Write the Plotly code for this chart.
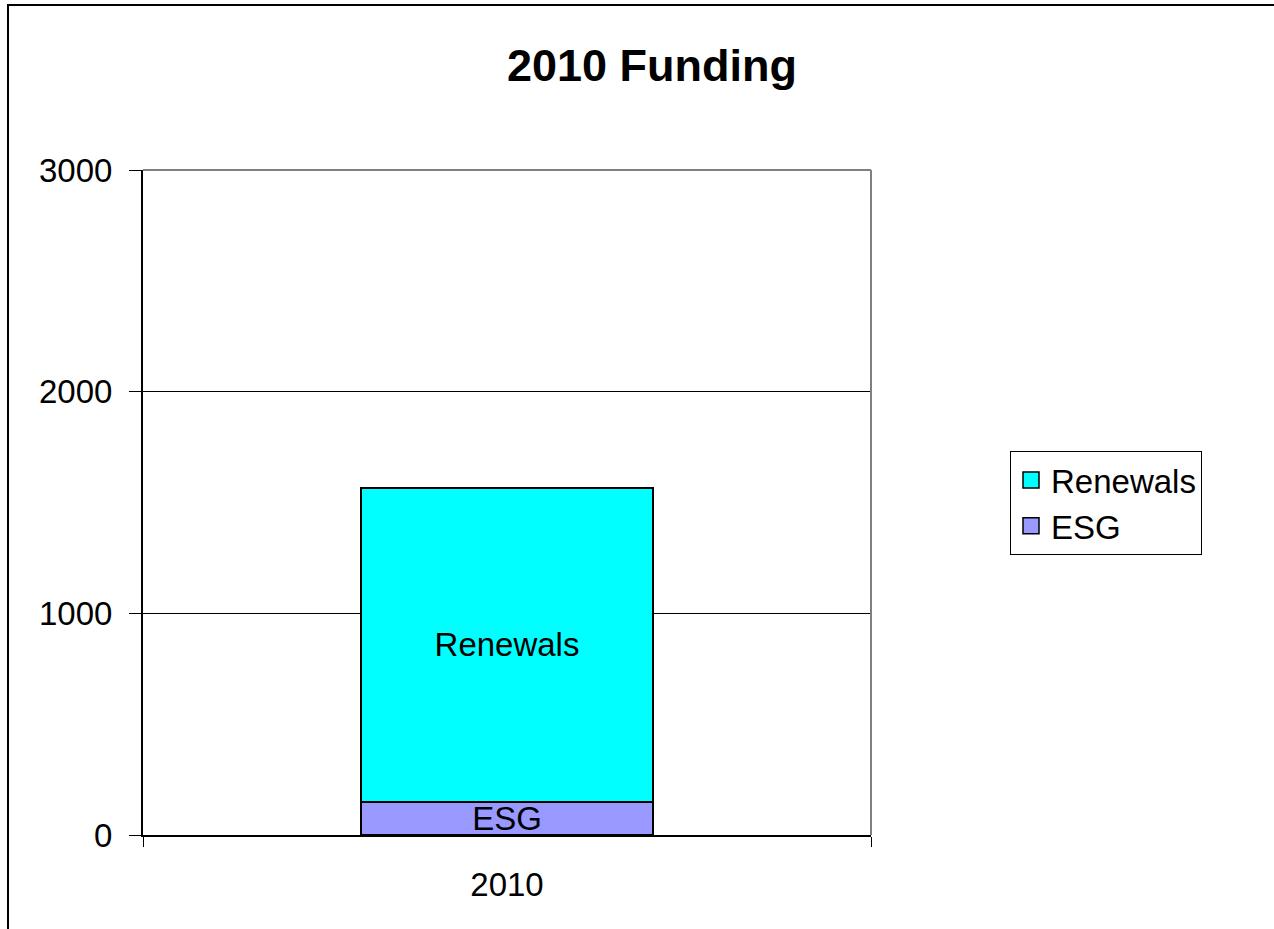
import plotly.graph_objects as go

categories = ["2010"]
esg = [150]
renewals = [1415]
series_names = ["ESG", "Renewals"]
series_colors = ["#9999FF", "#00FFFF"]
y_ticks = [0, 1000, 2000, 3000]

W, H = 1274, 929
L, R, T, B = 143, 871, 170, 835

def px_to_paper_x(px):
    return (px - L) / (R - L)

def px_to_paper_y(py):
    return (B - py) / (B - T)

font_main = "Liberation Sans, Arial, sans-serif"

fig = go.Figure()
for name, vals, col in [(series_names[0], esg, series_colors[0]),
                        (series_names[1], renewals, series_colors[1])]:
    fig.add_trace(go.Bar(
        x=categories, y=vals, name=name, showlegend=False,
        marker=dict(color=col, line=dict(color="black", width=2)),
        text=[name], textposition="inside", insidetextanchor="middle",
        textfont=dict(size=33, color="black", family=font_main),
        width=0.4,
    ))

# legend entries (larger square swatches like the original)
for name, col in [(series_names[1], series_colors[1]), (series_names[0], series_colors[0])]:
    fig.add_trace(go.Scatter(
        x=[None], y=[None], mode="markers", name=name, showlegend=True,
        marker=dict(symbol="square", size=19, color=col, line=dict(color="black", width=1.5)),
    ))

fig.update_layout(
    width=W, height=H,
    margin=dict(l=L, r=W - R, t=T, b=H - B, pad=0),
    barmode="stack",
    paper_bgcolor="white", plot_bgcolor="white",
    font=dict(family=font_main, size=33, color="black"),
    title=dict(text="<b>2010 Funding</b>", x=px_to_paper_x(652), xref="paper",
               xanchor="center", y=1 - 65 / H, yanchor="middle",
               font=dict(size=45, family=font_main, color="black")),
    uniformtext=dict(minsize=33, mode="show"),
    showlegend=True,
    legend=dict(x=px_to_paper_x(1010), y=px_to_paper_y(451), xanchor="left", yanchor="top",
                bordercolor="black", borderwidth=1, bgcolor="white",
                font=dict(size=33, family=font_main, color="black"),
                traceorder="normal", tracegroupgap=0, itemsizing="trace",
                entrywidth=160, entrywidthmode="pixels"),
)

fig.update_xaxes(
    type="category", tickson="boundaries", ticks="outside", ticklen=10, tickcolor="black",
    tickwidth=1, showline=True, linecolor="black", linewidth=2, showgrid=False,
    tickfont=dict(size=33), range=[-0.5, 0.5], ticklabelstandoff=19,
)
fig.update_yaxes(
    range=[0, 3000], tickvals=y_ticks, ticks="outside", ticklen=12, tickcolor="black",
    tickwidth=1, showline=True, linecolor="black", linewidth=2,
    showgrid=True, gridcolor="black", gridwidth=1, zeroline=False,
    tickfont=dict(size=33), ticklabelstandoff=10,
)

# plot area top and right border (gray)
fig.add_shape(type="line", xref="paper", yref="paper", x0=0, x1=1, y0=1, y1=1,
              line=dict(color="#808080", width=2), layer="above")
fig.add_shape(type="line", xref="paper", yref="paper", x0=1, x1=1, y0=0, y1=1,
              line=dict(color="#808080", width=2), layer="above")
# outer chart frame (clipped by page)
fig.add_shape(type="rect", xref="paper", yref="paper",
              x0=px_to_paper_x(8), x1=px_to_paper_x(1300),
              y0=px_to_paper_y(960), y1=px_to_paper_y(5),
              line=dict(color="black", width=2), fillcolor="rgba(0,0,0,0)", layer="above")

fig.write_html("out.html", config={"displayModeBar": False},
               post_script="document.body.style.margin='0';document.body.style.overflow='hidden';")
